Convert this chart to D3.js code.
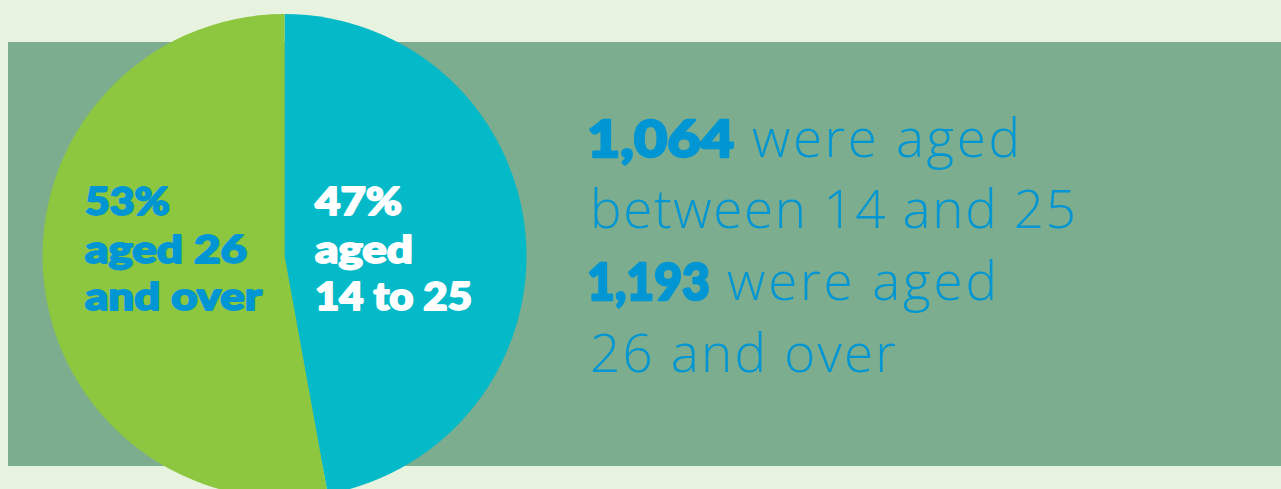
<!DOCTYPE html>
<html><head><meta charset="utf-8">
<script src="https://cdn.jsdelivr.net/npm/d3@7"></script>
<style>
html,body{margin:0;padding:0;background:#e7f2df;}
svg{display:block;}
</style></head>
<body>
<svg id="chart" width="1281" height="489"></svg>
<script>
// ---- data ----
const categories = ["14 to 25", "26 and over"];
const values = [1064, 1193];
const sliceColors = ["#05bac8", "#8dc63f"];
const labelColors = ["#ffffff", "#0096d4"];
const sliceLabels = [["47%", "aged", "14 to 25"], ["53%", "aged 26", "and over"]];
const statLines = [
  ["1,064", "were aged"],
  ["", "between 14 and 25"],
  ["1,193", "were aged"],
  ["", "26 and over"]
];

// ---- layout (not data) ----
const sliceLabelWidths = [[87, 98, 157], [85, 162, 177]];
const statLayout = [
  { bx: 587, bw: 147, lx: 752, lw: 268 },
  { lx: 590, lw: 486 },
  { bx: 587, bw: 123, lx: 727, lw: 270 },
  { lx: 590, lw: 306 }
];

const svg = d3.select("#chart");
const W = 1281, H = 489;

svg.append("rect").attr("x", 0).attr("y", 0).attr("width", W).attr("height", H).attr("fill", "#e7f2df");
svg.append("rect").attr("x", 8).attr("y", 42).attr("width", W - 8).attr("height", 424).attr("fill", "#7bad8e");

const cx = 284.5, cy = 256, R = 242;
const pie = d3.pie().sort(null).startAngle(0).endAngle(2 * Math.PI)(values);
const arc = d3.arc().innerRadius(0).outerRadius(R);

const g = svg.append("g").attr("transform", `translate(${cx},${cy})`);
g.selectAll("path").data(pie).join("path")
  .attr("d", arc)
  .attr("fill", (d, i) => sliceColors[i]);

// slice labels
const labelX = [315, 85];
const baseY = [215, 263, 310];
const boldFont = "'Lato','DejaVu Sans',sans-serif";
sliceLabels.forEach((lines, i) => {
  lines.forEach((ln, j) => {
    svg.append("text")
      .attr("x", labelX[i]).attr("y", baseY[j])
      .attr("fill", labelColors[i])
      .attr("stroke", labelColors[i]).attr("stroke-width", 1.8).attr("stroke-linejoin", "round")
      .attr("font-family", boldFont)
      .attr("font-weight", 900)
      .attr("font-size", 37)
      .attr("textLength", sliceLabelWidths[i][j])
      .attr("lengthAdjust", "spacingAndGlyphs")
      .text(ln);
  });
});

// stat text
const statY = [157, 228, 300, 372];
const blue = "#0096d4";
statLines.forEach((parts, i) => {
  const L = statLayout[i];
  if (parts[0]) {
    svg.append("text").attr("x", L.bx).attr("y", statY[i])
      .attr("fill", blue).attr("stroke", blue).attr("stroke-width", 2.4).attr("stroke-linejoin", "round")
      .attr("font-family", boldFont).attr("font-weight", 900).attr("font-size", 51)
      .attr("textLength", L.bw).attr("lengthAdjust", "spacingAndGlyphs")
      .text(parts[0]);
  }
  svg.append("text").attr("x", L.lx).attr("y", statY[i])
    .attr("fill", blue)
    .attr("font-family", "'Open Sans','Lato',sans-serif").attr("font-weight", 300)
    .attr("font-size", 53)
    .attr("textLength", L.lw).attr("lengthAdjust", "spacing")
    .text(parts[1]);
});
</script>
</body></html>
